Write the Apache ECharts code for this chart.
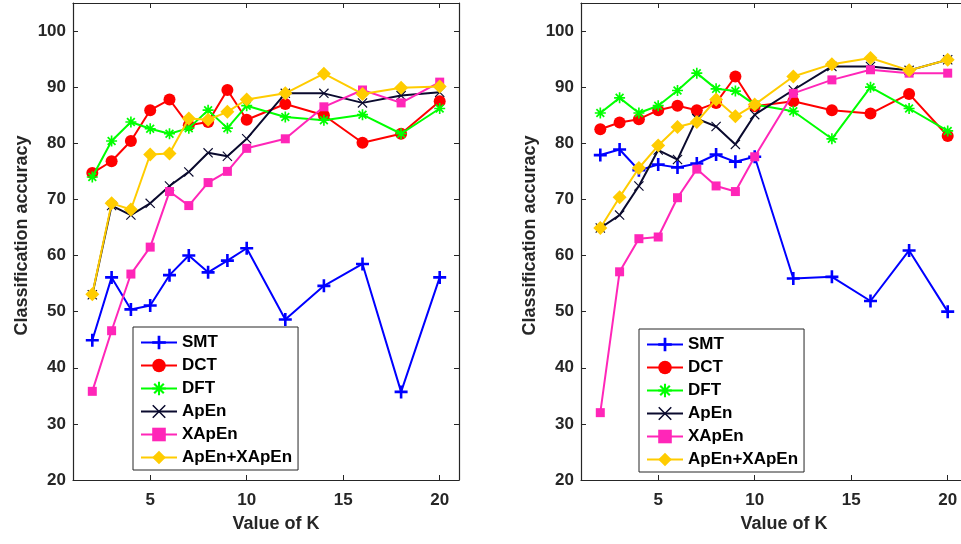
<!DOCTYPE html>
<html>
<head>
<meta charset="utf-8">
<style>
  html, body { margin: 0; padding: 0; background: #ffffff; }
  #chart { width: 961px; height: 544px; }
</style>
<script src="https://cdn.jsdelivr.net/npm/echarts@6/dist/echarts.min.js"></script>
</head>
<body>
<div id="chart"></div>
<script>
// Neighbourhood size K used on the horizontal axis
const kValues = [2, 3, 4, 5, 6, 7, 8, 9, 10, 12, 14, 16, 18, 20];
const xTicks = [5, 10, 15, 20];

// Left panel: classification accuracy (%) per method
const smtA   = [44.9, 56.1, 50.4, 51.1, 56.5, 60.0, 57.0, 59.1, 61.3, 48.6, 54.6, 58.5, 35.7, 56.1];
const dctA   = [74.7, 76.8, 80.4, 85.9, 87.8, 83.2, 83.8, 89.5, 84.2, 87.0, 85.0, 80.1, 81.7, 87.5];
const dftA   = [74.0, 80.4, 83.8, 82.6, 81.7, 82.7, 85.9, 82.7, 86.7, 84.7, 84.1, 85.1, 81.7, 86.2];
const apenA  = [53.0, 68.9, 67.2, 69.3, 72.4, 74.9, 78.3, 77.7, 80.8, 88.9, 88.9, 87.2, 88.5, 89.1];
const xapenA = [35.8, 46.6, 56.7, 61.5, 71.4, 68.9, 73.0, 75.0, 79.1, 80.8, 86.5, 89.5, 87.2, 90.9];
const combA  = [53.1, 69.3, 68.2, 78.0, 78.2, 84.4, 84.2, 85.6, 87.8, 88.9, 92.4, 88.8, 89.9, 90.1];

// Right panel: classification accuracy (%) per method
const smtB   = [77.9, 78.9, 75.2, 76.2, 75.7, 76.4, 78.0, 76.7, 77.6, 55.9, 56.2, 51.9, 60.9, 50.0];
const dctB   = [82.5, 83.7, 84.3, 85.9, 86.7, 85.9, 87.2, 91.9, 86.6, 87.5, 85.9, 85.3, 88.8, 81.3];
const dftB   = [85.4, 88.1, 85.4, 86.7, 89.4, 92.5, 89.7, 89.3, 86.9, 85.7, 80.8, 90.0, 86.2, 82.2];
const apenB  = [64.9, 67.2, 72.4, 78.8, 77.1, 84.4, 83.0, 79.8, 85.1, 89.5, 93.7, 93.7, 93.0, 94.9];
const xapenB = [32.0, 57.1, 63.0, 63.3, 70.3, 75.4, 72.4, 71.4, 77.6, 88.9, 91.3, 93.1, 92.5, 92.5];
const combB  = [64.9, 70.4, 75.6, 79.6, 82.9, 83.8, 87.8, 84.8, 86.9, 91.9, 94.1, 95.2, 93.0, 94.9];

const methodNames = ['SMT', 'DCT', 'DFT', 'ApEn', 'XApEn', 'ApEn+XApEn'];

// Stroke-like marker shapes built as filled outlines
const PLUS = 'path://M4,0L6,0L6,4L10,4L10,6L6,6L6,10L4,10L4,6L0,6L0,4L4,4Z';
const CROSS = 'path://M0.8,0L10,9.2L9.2,10L0,0.8Z M9.2,0L10,0.8L0.8,10L0,9.2Z';
const STAR = 'path://M4.25,0L5.75,0L5.75,4.25L10,4.25L10,5.75L5.75,5.75L5.75,10L4.25,10L4.25,5.75L0,5.75L0,4.25L4.25,4.25Z' +
  ' M2.03,0.9L9.1,7.97L7.97,9.1L0.9,2.03Z M7.97,0.9L9.1,2.03L2.03,9.1L0.9,7.97Z';

const styles = {
  'SMT':        { color: '#0000ff', symbol: PLUS,      size: 13 },
  'DCT':        { color: '#ff0000', symbol: 'circle',  size: 12 },
  'DFT':        { color: '#00ff00', symbol: STAR,      size: 11 },
  'ApEn':       { color: '#0a0a2e', symbol: CROSS,     size: 10 },
  'XApEn':      { color: '#ff26b8', symbol: 'rect',    size: 9 },
  'ApEn+XApEn': { color: '#ffcc00', symbol: 'diamond', size: 14 }
};

const panelA = [smtA, dctA, dftA, apenA, xapenA, combA];
const panelB = [smtB, dctB, dftB, apenB, xapenB, combB];

const axisColor = '#262626';
const labelFont = { fontFamily: 'Liberation Sans, Arial, sans-serif', fontWeight: 'bold', fontSize: 17, color: axisColor };

function makeSeries(values, axisIdx) {
  return methodNames.map(function (name, i) {
    const st = styles[name];
    return {
      name: name,
      type: 'line',
      xAxisIndex: axisIdx,
      yAxisIndex: axisIdx,
      data: kValues.map(function (k, j) { return [k, values[i][j]]; }),
      symbol: st.symbol,
      symbolSize: st.size,
      showAllSymbol: true,
      lineStyle: { color: st.color, width: 2 },
      itemStyle: { color: st.color, borderWidth: 0 },
      z: 2 + i
    };
  });
}

function xAxisPair(gridIdx) {
  return [
    {
      type: 'value', gridIndex: gridIdx, position: 'bottom', min: 1, max: 21,
      name: 'Value of K', nameLocation: 'middle', nameGap: 35,
      nameTextStyle: Object.assign({}, labelFont, { fontSize: 18, padding: [0, 0, 0, 20] }),
      axisLine: { show: true, onZero: false, lineStyle: { color: axisColor, width: 1.2 } },
      axisTick: { show: true, inside: true, length: 5, customValues: xTicks, lineStyle: { color: axisColor } },
      axisLabel: Object.assign({}, labelFont, { margin: 12, customValues: xTicks }),
      splitLine: { show: false }
    },
    {
      type: 'value', gridIndex: gridIdx, position: 'top', min: 1, max: 21,
      axisLine: { show: true, onZero: false, lineStyle: { color: axisColor, width: 1.2 } },
      axisTick: { show: true, inside: true, length: 5, customValues: xTicks, lineStyle: { color: axisColor } },
      axisLabel: { show: false },
      splitLine: { show: false }
    }
  ];
}

function yAxisPair(gridIdx) {
  return [
    {
      type: 'value', gridIndex: gridIdx, position: 'left', min: 20, max: 105, interval: 10,
      name: 'Classification accuracy', nameLocation: 'middle', nameGap: 42,
      nameTextStyle: Object.assign({}, labelFont, { fontSize: 18, padding: [0, 0, 0, 12] }),
      axisLine: { show: true, onZero: false, lineStyle: { color: axisColor, width: 1.2 } },
      axisTick: { show: true, inside: true, length: 5, lineStyle: { color: axisColor } },
      axisLabel: Object.assign({}, labelFont, { margin: 7, showMaxLabel: false }),
      splitLine: { show: false }
    },
    {
      type: 'value', gridIndex: gridIdx, position: 'right', min: 20, max: 105, interval: 10,
      axisLine: { show: true, onZero: false, lineStyle: { color: axisColor, width: 1.2 } },
      axisTick: { show: true, inside: true, length: 5, lineStyle: { color: axisColor } },
      axisLabel: { show: false },
      splitLine: { show: false }
    }
  ];
}

function makeLegend(left, top) {
  return {
    left: left, top: top, orient: 'vertical',
    data: methodNames,
    backgroundColor: '#ffffff',
    borderColor: axisColor, borderWidth: 1,
    padding: [7, 6, 4, 7],
    itemWidth: 36, itemHeight: 17, itemGap: 6,
    textStyle: Object.assign({}, labelFont, { color: '#000000', lineHeight: 17 }),
    selectedMode: false
  };
}

const xA = xAxisPair(0), xB = xAxisPair(1);
const yA = yAxisPair(0), yB = yAxisPair(1);

// Data series sit on the bottom/left axes (index 0 for the left panel, 2 for the right)
const seriesA = makeSeries(panelA, 0);
const seriesB = makeSeries(panelB, 2);

const chart = echarts.init(document.getElementById('chart'), null, { renderer: 'canvas' });
chart.setOption({
  animation: false,
  backgroundColor: '#ffffff',
  grid: [
    { left: 73, top: 3, width: 386, height: 477, outerBoundsMode: 'none' },
    { left: 581, top: 3, width: 386, height: 477, outerBoundsMode: 'none' }
  ],
  xAxis: [xA[0], xA[1], xB[0], xB[1]],
  yAxis: [yA[0], yA[1], yB[0], yB[1]],
  legend: [makeLegend(133, 327), makeLegend(639, 329)],
  series: seriesA.concat(seriesB)
});
</script>
</body>
</html>
